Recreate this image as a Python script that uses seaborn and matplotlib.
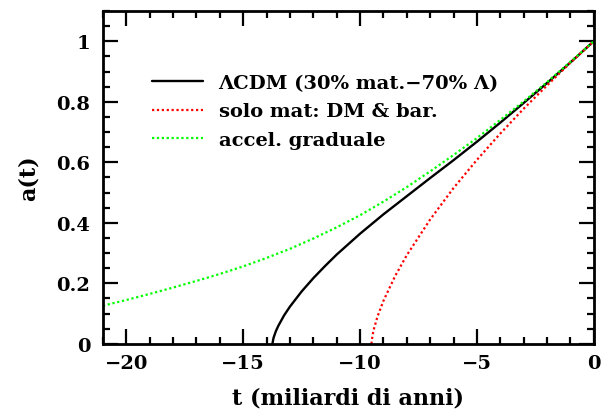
import matplotlib
matplotlib.use("Agg")
import matplotlib.pyplot as plt
import seaborn as sns
from matplotlib.ticker import MultipleLocator, FuncFormatter

# === DATA ===
# t in billions of years (0 = today), a(t) scale factor
t_lcdm = [-13.75, -13.7, -13.6, -13.5, -13.25, -13.0, -12.5, -12.0, -11.5, -11.0,
          -10.0, -9.0, -8.0, -7.0, -6.0, -5.0, -4.0, -3.0, -2.0, -1.0, 0.0]
a_lcdm = [0.0, 0.020, 0.042, 0.059, 0.094, 0.123, 0.173, 0.217, 0.257, 0.295,
          0.364, 0.428, 0.488, 0.548, 0.607, 0.668, 0.731, 0.796, 0.862, 0.930, 1.0]

t_mat = [-9.51, -9.5, -9.45, -9.4, -9.25, -9.0, -8.5, -8.0, -7.0, -6.0,
         -5.0, -4.0, -3.0, -2.0, -1.0, 0.0]
a_mat = [0.0, 0.010, 0.034, 0.051, 0.091, 0.142, 0.224, 0.293, 0.411, 0.515,
         0.608, 0.695, 0.777, 0.854, 0.929, 1.0]

t_acc = [-21, -20, -19, -18, -17, -16, -15, -14, -13, -12, -11,
         -10, -9, -8, -7, -6, -5, -4, -3, -2, -1, 0]
a_acc = [0.126, 0.145, 0.165, 0.186, 0.208, 0.231, 0.256, 0.284, 0.314, 0.348, 0.385,
         0.425, 0.470, 0.518, 0.570, 0.624, 0.680, 0.740, 0.801, 0.865, 0.932, 1.0]

LABELS = ["ΛCDM (30% mat.−70% Λ)", "solo mat: DM & bar.", "accel. graduale"]

sns.set_theme(style="ticks")
plt.rcParams["font.family"] = ["DejaVu Serif"]
plt.rcParams["font.weight"] = "bold"
plt.rcParams["axes.unicode_minus"] = True
plt.rcParams["text.color"] = "black"
plt.rcParams["axes.labelcolor"] = "black"

fig = plt.figure(figsize=(6.09, 4.14), dpi=100)
ax = fig.add_axes([0.169, 0.167, 0.806, 0.804])

sns.lineplot(x=t_lcdm, y=a_lcdm, ax=ax, color="black", lw=1.7,
             label=LABELS[0], sort=False, estimator=None)
sns.lineplot(x=t_mat, y=a_mat, ax=ax, color="#ff0000", lw=1.6,
             linestyle=(0, (1, 1.2)), label=LABELS[1], sort=False, estimator=None)
sns.lineplot(x=t_acc, y=a_acc, ax=ax, color="#00ff00", lw=1.6,
             linestyle=(0, (1, 1.2)), label=LABELS[2], sort=False, estimator=None)

ax.set_xlim(-21, 0)
ax.set_ylim(0, 1.1)
ax.xaxis.set_major_locator(MultipleLocator(5))
ax.xaxis.set_minor_locator(MultipleLocator(1))
ax.yaxis.set_major_locator(MultipleLocator(0.2))
ax.yaxis.set_minor_locator(MultipleLocator(0.05))
ax.yaxis.set_major_formatter(FuncFormatter(lambda v, _: f"{v:g}"))

ax.tick_params(which="both", direction="in", top=True, right=True,
               width=1.6, colors="black", labelsize=14)
ax.tick_params(which="major", length=10.5, pad=7)
ax.tick_params(which="minor", length=5.3)
ax.tick_params(axis="y", which="major", pad=9)
for sp in ax.spines.values():
    sp.set_linewidth(2)
    sp.set_color("black")

ax.set_xlabel("t (miliardi di anni)", fontsize=16, fontweight="bold", labelpad=11)
ax.set_ylabel("a(t)", fontsize=16, fontweight="bold", labelpad=12)

leg = ax.legend(loc="upper left", bbox_to_anchor=(0.085, 0.835), frameon=False,
                prop={"size": 14, "weight": "bold"}, handlelength=2.6,
                handletextpad=0.8, labelspacing=0.55, borderaxespad=0)
for txt in leg.get_texts():
    txt.set_color("black")

fig.savefig("out.png", dpi=100)
